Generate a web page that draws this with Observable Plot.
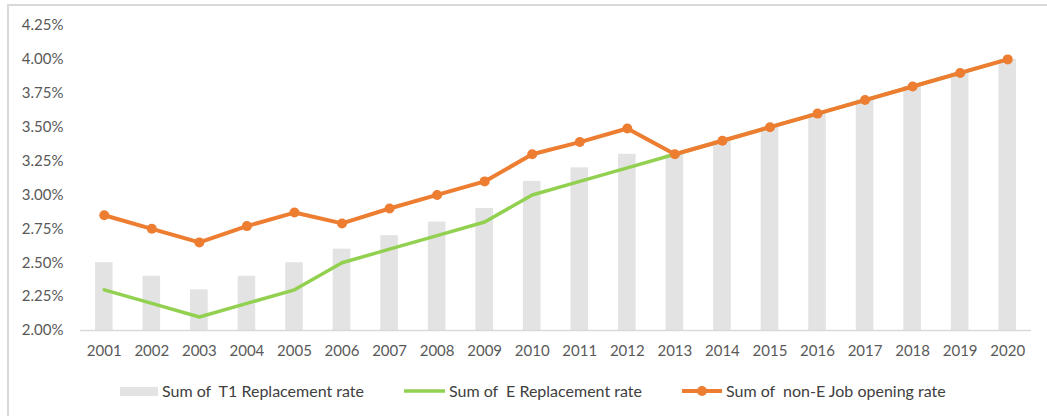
<!DOCTYPE html>
<html>
<head>
<meta charset="utf-8">
<script src="https://cdn.jsdelivr.net/npm/d3@7"></script>
<script src="https://cdn.jsdelivr.net/npm/@observablehq/plot@0.6"></script>
<style>
  html, body { margin: 0; padding: 0; background: #fff; overflow: hidden; }
  body { width: 1047px; height: 416px; position: relative; font-family: Lato, "Open Sans", sans-serif; }
  #frame { position: absolute; left: 7px; top: 4px; width: 1100px; height: 500px; border: 2px solid #d9d9d9; box-sizing: border-box; }
  #chart { position: absolute; left: 0; top: 0; }
  #legend { position: absolute; left: 120px; top: 381px; display: flex; align-items: center; gap: 40px; font-size: 16px; color: #404040; line-height: 20px; }
  .item { display: flex; align-items: center; gap: 4px; }
  .item svg { display: block; }
</style>
</head>
<body>
<div id="frame"></div>
<div id="chart"></div>
<div id="legend"></div>
<script>
const years = ["2001","2002","2003","2004","2005","2006","2007","2008","2009","2010","2011","2012","2013","2014","2015","2016","2017","2018","2019","2020"];
const t1Replacement = [2.5, 2.4, 2.3, 2.4, 2.5, 2.6, 2.7, 2.8, 2.9, 3.1, 3.2, 3.3, 3.3, 3.4, 3.5, 3.6, 3.7, 3.8, 3.9, 4.0];
const eReplacement = [2.3, 2.2, 2.1, 2.2, 2.3, 2.5, 2.6, 2.7, 2.8, 3.0, 3.1, 3.2, 3.3, 3.4, 3.5, 3.6, 3.7, 3.8, 3.9, 4.0];
const nonEJobOpening = [2.85, 2.75, 2.65, 2.77, 2.87, 2.79, 2.9, 3.0, 3.1, 3.3, 3.39, 3.49, 3.3, 3.4, 3.5, 3.6, 3.7, 3.8, 3.9, 4.0];
const yTicks = [2.0, 2.25, 2.5, 2.75, 3.0, 3.25, 3.5, 3.75, 4.0, 4.25];
const seriesNames = ["Sum of  T1 Replacement rate", "Sum of  E Replacement rate", "Sum of  non-E Job opening rate"];

const colors = { t1: "#e3e3e3", e: "#92d050", nonE: "#ed7d31" };

const rows = years.map((y, i) => ({ year: y, t1: t1Replacement[i], e: eReplacement[i], nonE: nonEJobOpening[i] }));

const chart = Plot.plot({
  width: 1047,
  height: 360,
  marginLeft: 80,
  marginRight: 16,
  marginTop: 25,
  marginBottom: 30,
  style: { fontFamily: "Lato, 'Open Sans', sans-serif", fontSize: "15px", color: "#595959", background: "transparent" },
  x: { type: "band", domain: years, paddingInner: 0.63, paddingOuter: 0.315, round: false, label: null, tickSize: 0, tickPadding: 15 },
  y: { domain: [2.0, 4.25], ticks: yTicks, tickFormat: d => d.toFixed(2) + "%", label: null, tickSize: 0, tickPadding: 17 },
  marks: [
    Plot.barY(rows, { x: "year", y1: 2.0, y2: "t1", fill: colors.t1 }),
    Plot.ruleY([2.0], { stroke: "#d9d9d9", strokeWidth: 1.5 }),
    Plot.line(rows, { x: "year", y: "e", stroke: colors.e, strokeWidth: 3.5 }),
    Plot.line(rows, { x: "year", y: "nonE", stroke: colors.nonE, strokeWidth: 4 }),
    Plot.dot(rows, { x: "year", y: "nonE", fill: colors.nonE, r: 5 })
  ]
});
document.getElementById("chart").appendChild(chart);

const legend = document.getElementById("legend");
const swatches = [
  `<svg width="38" height="12"><rect x="0" y="2" width="38" height="9" fill="${colors.t1}"/></svg>`,
  `<svg width="41" height="12"><line x1="0" y1="6" x2="41" y2="6" stroke="${colors.e}" stroke-width="3.5"/></svg>`,
  `<svg width="40" height="12"><line x1="0" y1="6" x2="40" y2="6" stroke="${colors.nonE}" stroke-width="4"/><circle cx="20" cy="6" r="5" fill="${colors.nonE}"/></svg>`
];
seriesNames.forEach((name, i) => {
  const item = document.createElement("div");
  item.className = "item";
  item.innerHTML = swatches[i] + `<span>${name.replace(/ {2}/g, " &nbsp;")}</span>`;
  legend.appendChild(item);
});
</script>
</body>
</html>
